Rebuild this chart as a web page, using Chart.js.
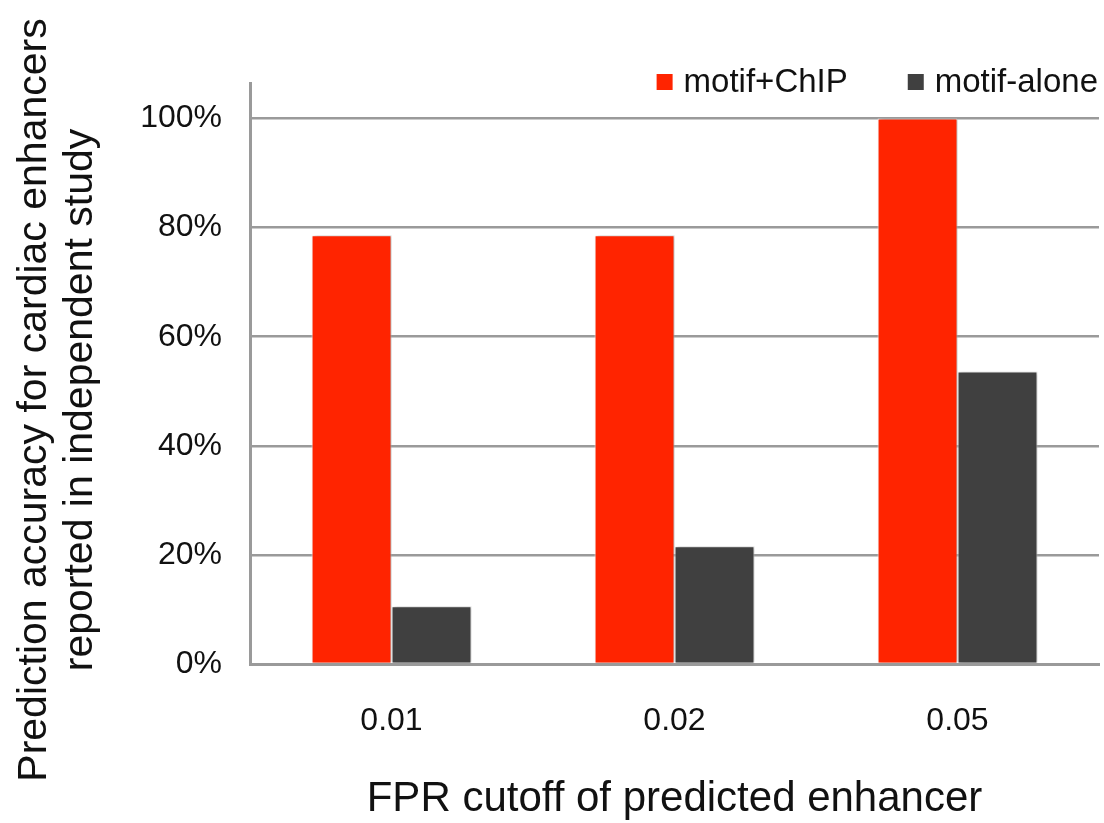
<!DOCTYPE html>
<html>
<head>
<meta charset="utf-8">
<script src="https://cdn.jsdelivr.net/npm/chart.js@4/dist/chart.umd.min.js"></script>
<style>
  html, body { margin: 0; padding: 0; background: #fff; }
  canvas { display: block; }
</style>
</head>
<body>
<canvas id="chart" width="1104" height="823"></canvas>
<script>
// FPR cutoffs and prediction accuracy (%) per method
const categories = ['0.01', '0.02', '0.05'];
const motifChip = [78.6, 78.6, 100];
const motifAlone = [10.6, 21.6, 53.6];
const seriesNames = ['motif+ChIP', 'motif-alone'];
const seriesColors = ['#ff2400', '#404040'];
const yTickValues = [0, 20, 40, 60, 80, 100];
const yTitleLines = ['Prediction accuracy for cardiac enhancers', 'reported in independent study'];
const xTitle = 'FPR cutoff of predicted enhancer';

const FONT = '"Liberation Sans", Arial, Helvetica, sans-serif';
const GRID = '#9a9a9a';

// Soft drop shadow behind the bars
const barShadow = {
  id: 'barShadow',
  beforeDatasetsDraw(chart) {
    const ctx = chart.ctx;
    ctx.save();
    ctx.shadowColor = 'rgba(0,0,0,0.28)';
    ctx.shadowBlur = 4;
    ctx.shadowOffsetX = 2;
    ctx.shadowOffsetY = 0;
  },
  afterDatasetsDraw(chart) {
    chart.ctx.restore();
  }
};

// Legend drawn in the top-right corner, right aligned
const cornerLegend = {
  id: 'cornerLegend',
  afterDraw(chart) {
    const ctx = chart.ctx;
    ctx.save();
    ctx.font = '33px ' + FONT;
    ctx.textBaseline = 'middle';
    ctx.textAlign = 'left';
    const box = 16, gapBox = 11, gapItem = 60, cy = 83;
    const items = chart.data.datasets.map(d => ({ label: d.label, color: d.backgroundColor }));
    const widths = items.map(it => ctx.measureText(it.label).width);
    let total = 0;
    items.forEach((it, i) => { total += box + gapBox + widths[i] + (i < items.length - 1 ? gapItem : 0); });
    let x = chart.width - 6 - total;
    items.forEach((it, i) => {
      ctx.fillStyle = it.color;
      ctx.fillRect(x, cy - box / 2 - 1, box, box);
      x += box + gapBox;
      ctx.fillStyle = '#111';
      ctx.fillText(it.label, x, cy);
      x += widths[i] + gapItem;
    });
    ctx.restore();
  }
};

// Two-line rotated title for the value axis
const yAxisTitle = {
  id: 'yAxisTitle',
  afterDraw(chart) {
    const ctx = chart.ctx;
    ctx.save();
    ctx.font = '41px ' + FONT;
    ctx.fillStyle = '#111';
    ctx.textAlign = 'center';
    ctx.textBaseline = 'middle';
    const xs = [35, 81];
    yTitleLines.forEach((line, i) => {
      ctx.save();
      ctx.translate(xs[i], 400);
      ctx.rotate(-Math.PI / 2);
      ctx.fillText(line, 0, 0);
      ctx.restore();
    });
    ctx.restore();
  }
};

new Chart(document.getElementById('chart'), {
  type: 'bar',
  data: {
    labels: categories,
    datasets: [
      {
        label: seriesNames[0],
        data: motifChip,
        backgroundColor: seriesColors[0],
        borderColor: '#ffffff',
        borderWidth: { left: 1, right: 1, top: 1, bottom: 0 },
        borderSkipped: 'bottom'
      },
      {
        label: seriesNames[1],
        data: motifAlone,
        backgroundColor: seriesColors[1],
        borderColor: '#ffffff',
        borderWidth: { left: 1, right: 1, top: 1, bottom: 0 },
        borderSkipped: 'bottom'
      }
    ]
  },
  options: {
    responsive: false,
    animation: false,
    devicePixelRatio: 1,
    layout: { padding: { top: 83, right: 5, left: 0, bottom: 0 } },
    datasets: {
      bar: { categoryPercentage: 0.565, barPercentage: 1.0 }
    },
    plugins: {
      legend: { display: false },
      tooltip: { enabled: false },
      title: { display: false }
    },
    scales: {
      x: {
        grid: { display: false, drawTicks: false },
        border: { display: true, color: GRID, width: 3 },
        ticks: {
          color: '#111',
          padding: 38,
          font: { family: FONT, size: 32 }
        },
        title: {
          display: true,
          text: xTitle,
          color: '#111',
          font: { family: FONT, size: 42, lineHeight: 1.1 },
          padding: { top: 0, bottom: 0 }
        },
        afterFit(scale) { scale.height = 159; }
      },
      y: {
        min: 0,
        max: 106.5,
        grid: { color: GRID, lineWidth: 2.5, drawTicks: false },
        border: { display: true, color: GRID, width: 3 },
        ticks: {
          autoSkip: false,
          color: '#111',
          padding: 28,
          font: { family: FONT, size: 32 },
          callback: v => v + '%'
        },
        afterBuildTicks(scale) {
          scale.ticks = yTickValues.map(v => ({ value: v }));
        },
        afterFit(scale) { scale.width = 250; }
      }
    }
  },
  plugins: [barShadow, cornerLegend, yAxisTitle]
});
</script>
</body>
</html>
